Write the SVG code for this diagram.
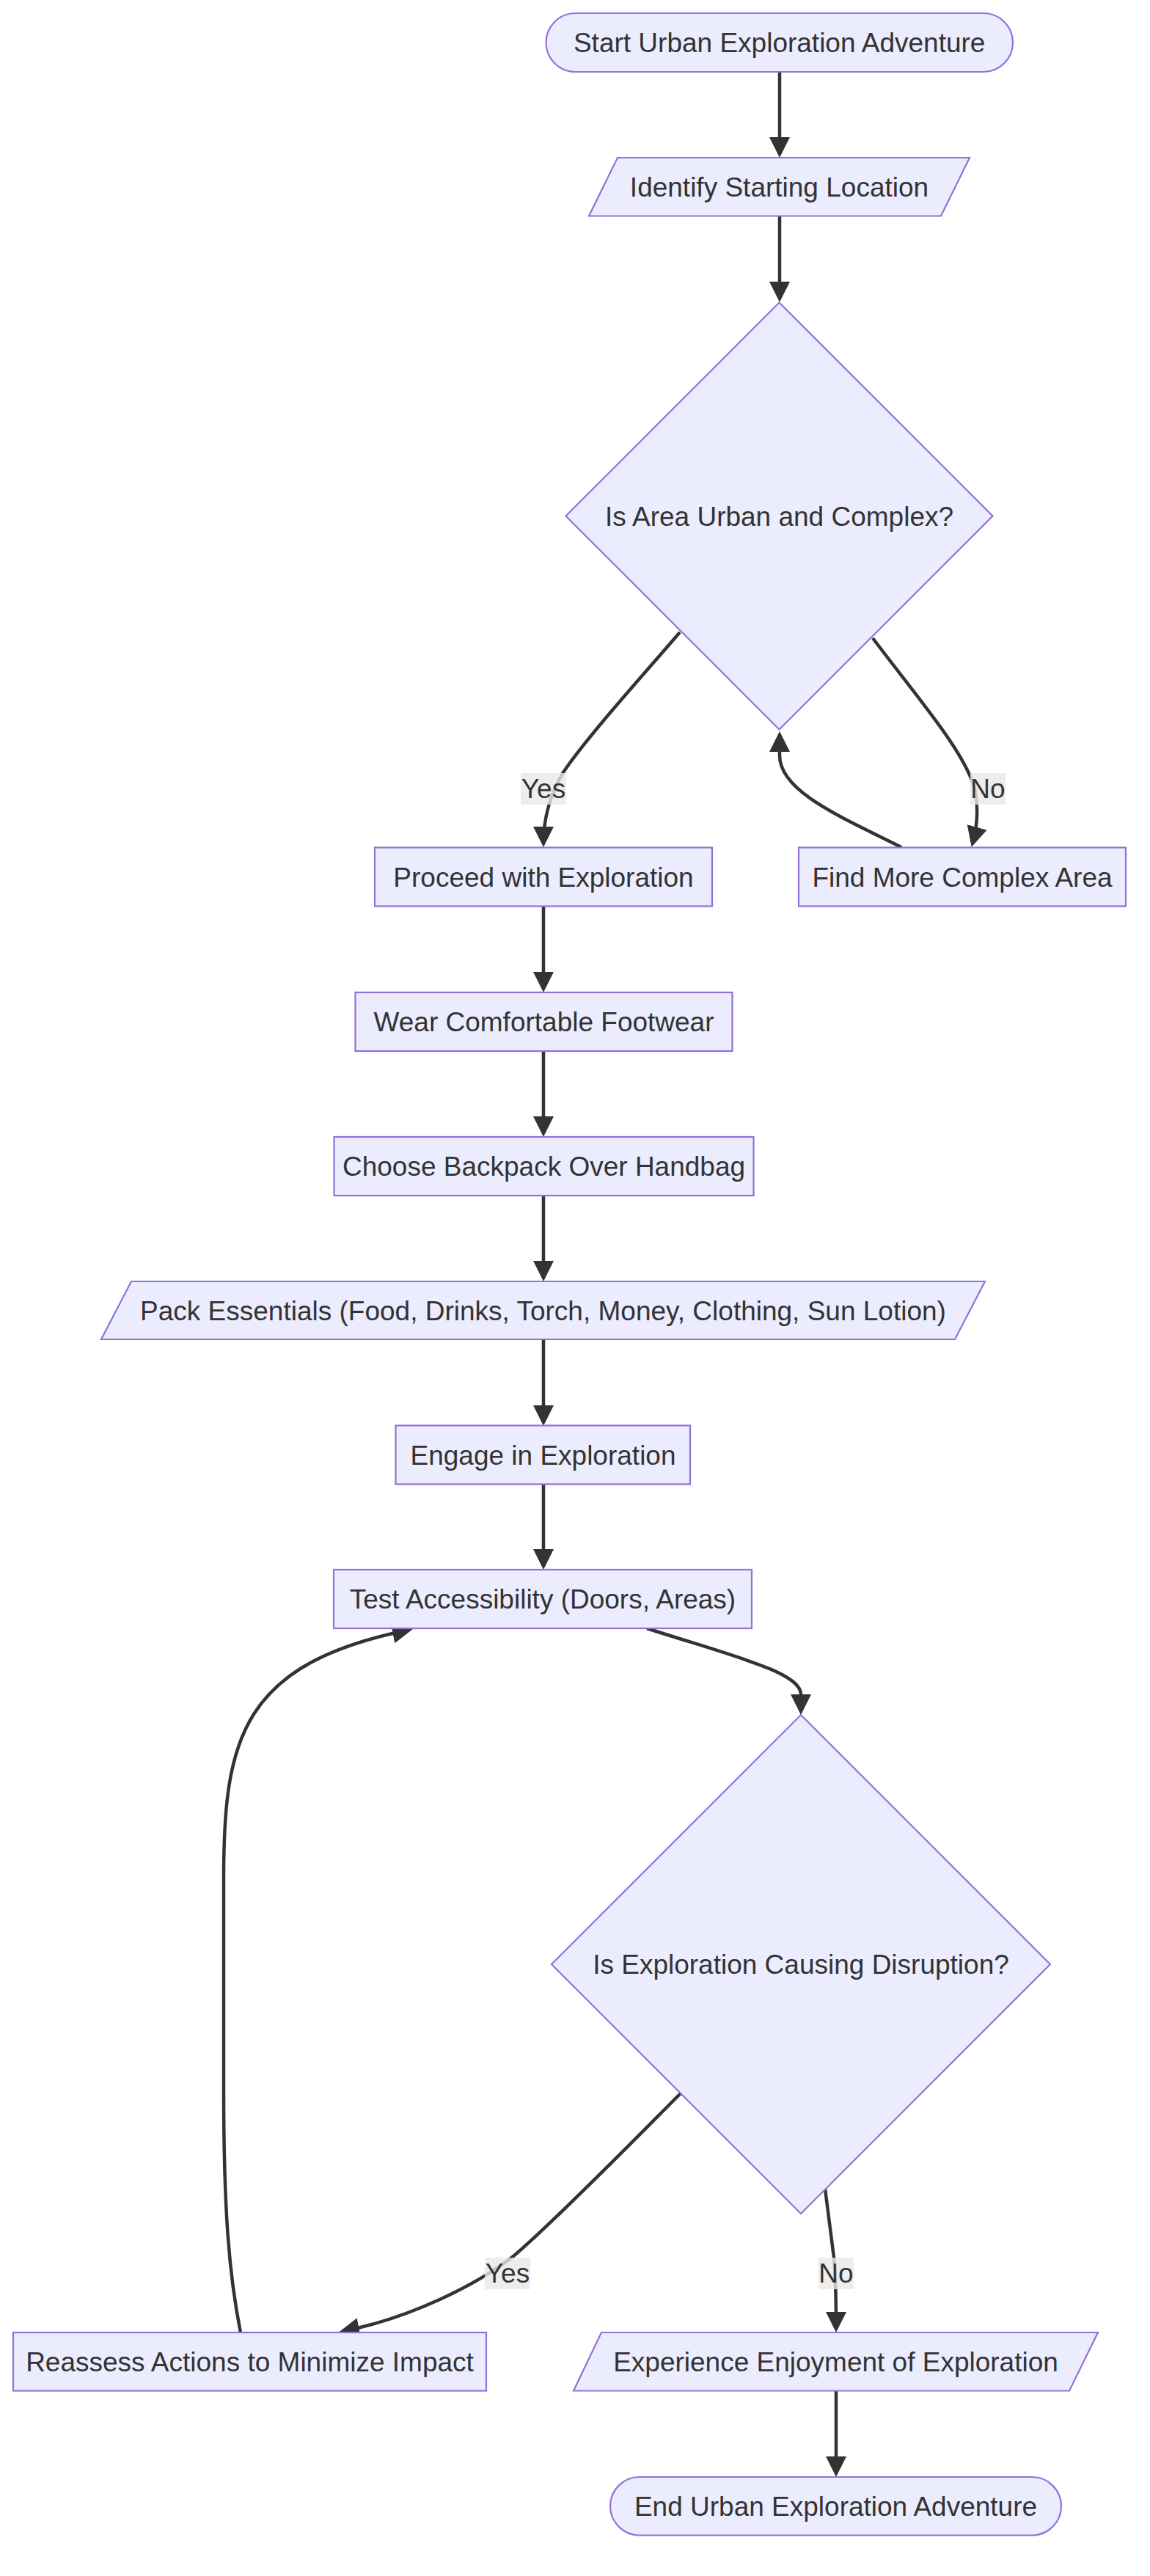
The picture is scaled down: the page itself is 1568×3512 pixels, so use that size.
<svg xmlns="http://www.w3.org/2000/svg" width="1568" height="3512" viewBox="0 0 1568 3512">
  <style>
    .node rect, .node polygon { fill: #ECECFF; stroke: #9370DB; stroke-width: 2.2; }
    text { font-family: "Liberation Sans", Arial, sans-serif; font-size: 37px; fill: #333333; text-anchor: middle; }
    .edge { fill: none; stroke: #333333; stroke-width: 4.5; }
    .edge-label rect { fill: #e8e8e8; opacity: 0.8; }
  </style>
  <defs>
    <marker id="arrowhead" markerUnits="userSpaceOnUse" viewBox="0 0 28 28" markerWidth="28" markerHeight="28" refX="23" refY="14" orient="auto">
      <path d="M0,0 L28,14 L0,28 z" fill="#333333"/>
    </marker>
  </defs>

  <rect width="1568" height="3512" fill="#ffffff"/>

  <!-- connectors -->
  <g id="edges">
    <path class="edge" marker-end="url(#arrowhead)" d="M1063,98 L1063,210"/>
    <path class="edge" marker-end="url(#arrowhead)" d="M1063,294 L1063,407"/>
    <path class="edge" marker-end="url(#arrowhead)" d="M927,862 C880,917 800,1005 768,1053 C752,1080 741,1110 741,1150"/>
    <path class="edge" marker-end="url(#arrowhead)" d="M1190,870 C1250,950 1320,1030 1330,1080 C1335,1110 1331,1132 1326,1150"/>
    <path class="edge" marker-end="url(#arrowhead)" d="M1229,1155 C1150,1115 1063,1080 1063,1030 L1063,1002"/>
    <path class="edge" marker-end="url(#arrowhead)" d="M741,1236 L741,1348"/>
    <path class="edge" marker-end="url(#arrowhead)" d="M741,1433 L741,1545"/>
    <path class="edge" marker-end="url(#arrowhead)" d="M741,1630 L741,1742"/>
    <path class="edge" marker-end="url(#arrowhead)" d="M741,1826 L741,1939"/>
    <path class="edge" marker-end="url(#arrowhead)" d="M741,2023 L741,2135"/>
    <path class="edge" marker-end="url(#arrowhead)" d="M882,2220 C1000,2258 1092,2280 1092,2310 L1092,2333"/>
    <path class="edge" marker-end="url(#arrowhead)" d="M928,2854 C880,2902 760,3025 700,3076 C650,3115 560,3160 467,3178.6"/>
    <path class="edge" marker-end="url(#arrowhead)" d="M1125,2984 L1137,3078 C1139,3100 1140,3130 1140,3175"/>
    <path class="edge" marker-end="url(#arrowhead)" d="M328,3180 C312,3100 305,3010 305,2850 L305,2560 C305,2370 330,2268 558,2222"/>
    <path class="edge" marker-end="url(#arrowhead)" d="M1140,3259 L1140,3372"/>

    <g class="edge-label">
      <rect x="710" y="1054" width="62" height="43"/>
      <text x="741" y="1088">Yes</text>
    </g>
    <g class="edge-label">
      <rect x="1323" y="1054" width="48" height="43"/>
      <text x="1347" y="1088">No</text>
    </g>
    <g class="edge-label">
      <rect x="661" y="3078" width="62" height="43"/>
      <text x="692" y="3112">Yes</text>
    </g>
    <g class="edge-label">
      <rect x="1116" y="3078" width="48" height="43"/>
      <text x="1140" y="3112">No</text>
    </g>
  </g>

  <!-- nodes -->
  <g id="start" class="node">
    <rect x="744.5" y="18" width="636.5" height="80" rx="40" ry="40"/>
    <text x="1062.7" y="71">Start Urban Exploration Adventure</text>
  </g>
  <g id="identify" class="node">
    <polygon points="842,215 1322,215 1283,294.5 803,294.5"/>
    <text x="1062.5" y="267.5">Identify Starting Location</text>
  </g>
  <g id="area-check" class="node">
    <polygon points="1062.5,412.5 1353.5,703.5 1062.5,994.5 771.5,703.5"/>
    <text x="1062.5" y="716.5">Is Area Urban and Complex?</text>
  </g>
  <g id="proceed" class="node">
    <rect x="511" y="1155.5" width="460" height="80"/>
    <text x="741" y="1208.5">Proceed with Exploration</text>
  </g>
  <g id="find-area" class="node">
    <rect x="1089" y="1155.5" width="446" height="80"/>
    <text x="1312" y="1208.5">Find More Complex Area</text>
  </g>
  <g id="footwear" class="node">
    <rect x="484.5" y="1353" width="514" height="80"/>
    <text x="741.5" y="1406">Wear Comfortable Footwear</text>
  </g>
  <g id="backpack" class="node">
    <rect x="455.5" y="1550" width="572" height="80"/>
    <text x="741.5" y="1603">Choose Backpack Over Handbag</text>
  </g>
  <g id="essentials" class="node">
    <polygon points="179,1747 1343,1747 1302,1826 138,1826"/>
    <text x="740.5" y="1799.5">Pack Essentials (Food, Drinks, Torch, Money, Clothing, Sun Lotion)</text>
  </g>
  <g id="engage" class="node">
    <rect x="539.5" y="1943.5" width="401.5" height="80"/>
    <text x="740.5" y="1996.5">Engage in Exploration</text>
  </g>
  <g id="test-access" class="node">
    <rect x="455" y="2140" width="570" height="80"/>
    <text x="740" y="2193">Test Accessibility (Doors, Areas)</text>
  </g>
  <g id="disruption-check" class="node">
    <polygon points="1092,2338 1432,2678 1092,3018 752,2678"/>
    <text x="1092" y="2691">Is Exploration Causing Disruption?</text>
  </g>
  <g id="reassess" class="node">
    <rect x="18" y="3180" width="645" height="79.5"/>
    <text x="340.5" y="3232.5">Reassess Actions to Minimize Impact</text>
  </g>
  <g id="enjoy" class="node">
    <polygon points="820,3180 1497,3180 1458,3259.5 782,3259.5"/>
    <text x="1139.5" y="3232.5">Experience Enjoyment of Exploration</text>
  </g>
  <g id="end" class="node">
    <rect x="832" y="3377" width="615" height="79.5" rx="40" ry="40"/>
    <text x="1139.5" y="3429.5">End Urban Exploration Adventure</text>
  </g>
</svg>
